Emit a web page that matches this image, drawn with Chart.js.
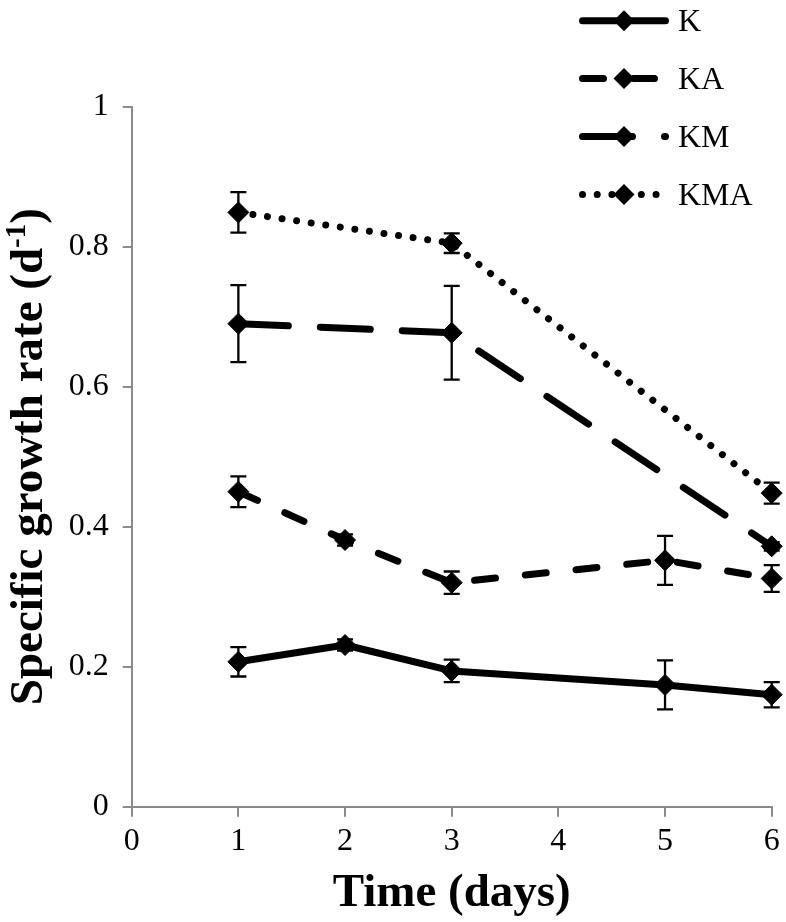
<!DOCTYPE html>
<html><head><meta charset="utf-8">
<script src="https://cdn.jsdelivr.net/npm/chart.js@4.4.1/dist/chart.umd.min.js"></script>
<style>html,body{margin:0;padding:0;background:#fff}canvas{display:block}</style>
</head><body>
<canvas id="c" width="786" height="922"></canvas>
<script>
// ---- data ----
const seriesNames = ['K', 'KA', 'KM', 'KMA'];

const daysK = [1, 2, 3, 5, 6];
const valuesK = [0.207, 0.231, 0.194, 0.174, 0.160];
const errorsK = [0.021, 0.008, 0.016, 0.035, 0.018];

const daysKA = [1, 2, 3, 5, 6];
const valuesKA = [0.450, 0.381, 0.320, 0.352, 0.326];
const errorsKA = [0.022, 0.008, 0.016, 0.035, 0.019];

const daysKM = [1, 3, 6];
const valuesKM = [0.690, 0.677, 0.372];
const errorsKM = [0.055, 0.067, 0.006];

const daysKMA = [1, 3, 6];
const valuesKMA = [0.849, 0.805, 0.448];
const errorsKMA = [0.029, 0.014, 0.015];

const xTicks = [0, 1, 2, 3, 4, 5, 6];
const xTickLabels = ['0', '1', '2', '3', '4', '5', '6'];
const yTicks = [0, 0.2, 0.4, 0.6, 0.8, 1];
const yTickLabels = ['0', '0.2', '0.4', '0.6', '0.8', '1'];

const xTitle = 'Time (days)';
const yTitleMain = 'Specific growth rate (d';
const yTitleSup = '-1';
const yTitleEnd = ')';

// ---- styles ----
const FONT = "'Liberation Serif', 'Times New Roman', serif";
const AXIS = '#8a8a8a';
const dashes = [[], [21, 30], [50, 32], [0.01, 14.7]];
const errorSets = [errorsK, errorsKA, errorsKM, errorsKMA];

function pts(xs, ys) { return xs.map((x, i) => ({ x: x, y: ys[i] })); }
const seriesData = [pts(daysK, valuesK), pts(daysKA, valuesKA), pts(daysKM, valuesKM), pts(daysKMA, valuesKMA)];

const datasets = seriesNames.map((name, i) => ({
  label: name,
  data: seriesData[i],
  borderColor: '#000',
  backgroundColor: '#000',
  borderWidth: 7,
  borderDash: dashes[i],
  borderCapStyle: 'round',
  borderJoinStyle: 'round',
  pointStyle: 'rectRot',
  pointRadius: 10.5,
  pointBorderWidth: 1,
  pointBackgroundColor: '#000',
  pointBorderColor: '#000',
  tension: 0,
  clip: false
}));

const errorBarPlugin = {
  id: 'errorBars',
  beforeDatasetsDraw(chart) {
    const ctx = chart.ctx, xs = chart.scales.x, ys = chart.scales.y;
    ctx.save();
    ctx.strokeStyle = '#000';
    ctx.lineWidth = 2.3;
    ctx.setLineDash([]);
    errorSets.forEach((errs, i) => {
      chart.data.datasets[i].data.forEach((p, j) => {
        const px = xs.getPixelForValue(p.x);
        const top = ys.getPixelForValue(p.y + errs[j]);
        const bot = ys.getPixelForValue(p.y - errs[j]);
        ctx.beginPath();
        ctx.moveTo(px, top); ctx.lineTo(px, bot);
        ctx.moveTo(px - 8, top); ctx.lineTo(px + 8, top);
        ctx.moveTo(px - 8, bot); ctx.lineTo(px + 8, bot);
        ctx.stroke();
      });
    });
    ctx.restore();
  }
};

const legendPlugin = {
  id: 'customLegend',
  afterDraw(chart) {
    const ctx = chart.ctx;
    const x0 = 579, x1 = 669, xm = 624, tx = 678;
    chart.data.datasets.forEach((ds, i) => {
      const y = 20.7 + i * 57.9;
      ctx.save();
      ctx.strokeStyle = '#000';
      ctx.lineWidth = ds.borderWidth;
      ctx.lineCap = 'round';
      ctx.setLineDash(ds.borderDash);
      ctx.beginPath();
      ctx.moveTo(x0 + 3.5, y);
      ctx.lineTo(x1 - 3.5, y);
      ctx.stroke();
      ctx.setLineDash([]);
      const r = 10.5;
      ctx.fillStyle = '#000';
      ctx.beginPath();
      ctx.moveTo(xm - r, y); ctx.lineTo(xm, y - r); ctx.lineTo(xm + r, y); ctx.lineTo(xm, y + r);
      ctx.closePath();
      ctx.fill();
      ctx.font = '32px ' + FONT;
      ctx.textBaseline = 'middle';
      ctx.textAlign = 'left';
      ctx.fillText(ds.label, tx, y + 2);
      ctx.restore();
    });
  }
};

const yTitlePlugin = {
  id: 'yTitle',
  afterDraw(chart) {
    const ctx = chart.ctx;
    const area = chart.chartArea;
    const mainFont = 'bold 47px ' + FONT;
    const supFont = 'bold 29px ' + FONT;
    ctx.save();
    ctx.fillStyle = '#000';
    ctx.font = mainFont;
    const w1 = ctx.measureText(yTitleMain).width;
    const w3 = ctx.measureText(yTitleEnd).width;
    ctx.font = supFont;
    const w2 = ctx.measureText(yTitleSup).width;
    const total = w1 + w2 + w3;
    const cy = (area.top + area.bottom) / 2;
    ctx.translate(42, cy);
    ctx.rotate(-Math.PI / 2);
    ctx.textBaseline = 'alphabetic';
    ctx.textAlign = 'left';
    let x = -total / 2;
    ctx.font = mainFont;
    ctx.fillText(yTitleMain, x, 0);
    x += w1;
    ctx.font = supFont;
    ctx.fillText(yTitleSup, x, -17);
    x += w2;
    ctx.font = mainFont;
    ctx.fillText(yTitleEnd, x, 0);
    ctx.restore();
  }
};

new Chart(document.getElementById('c'), {
  type: 'line',
  data: { datasets: datasets },
  plugins: [errorBarPlugin, legendPlugin, yTitlePlugin],
  options: {
    responsive: false,
    animation: false,
    layout: { padding: { top: 106.7, right: 14.3, left: 0, bottom: 0 } },
    plugins: { legend: { display: false }, tooltip: { enabled: false } },
    scales: {
      x: {
        type: 'linear',
        min: 0, max: 6,
        afterBuildTicks: s => { s.ticks = xTicks.map(v => ({ value: v })); },
        afterFit: s => { s.height = 922 - 806.7; },
        ticks: {
          callback: (v) => xTickLabels[xTicks.indexOf(v)],
          font: { family: FONT, size: 32 },
          color: '#000',
          padding: 6,
          maxRotation: 0
        },
        grid: { drawOnChartArea: false, color: AXIS, lineWidth: 2, tickLength: 10 },
        border: { color: AXIS, width: 2 },
        title: {
          display: true,
          text: xTitle,
          font: { family: FONT, size: 47, weight: 'bold' },
          color: '#000',
          padding: { top: 0, bottom: 0 }
        }
      },
      y: {
        min: 0, max: 1,
        afterBuildTicks: s => { s.ticks = yTicks.map(v => ({ value: v })); },
        afterFit: s => { s.width = 131.7; },
        ticks: {
          callback: (v) => yTickLabels[yTicks.indexOf(v)],
          font: { family: FONT, size: 32 },
          color: '#000',
          padding: 14
        },
        grid: { drawOnChartArea: false, color: AXIS, lineWidth: 2, tickLength: 9 },
        border: { color: AXIS, width: 2 }
      }
    }
  }
});
</script>
</body></html>
